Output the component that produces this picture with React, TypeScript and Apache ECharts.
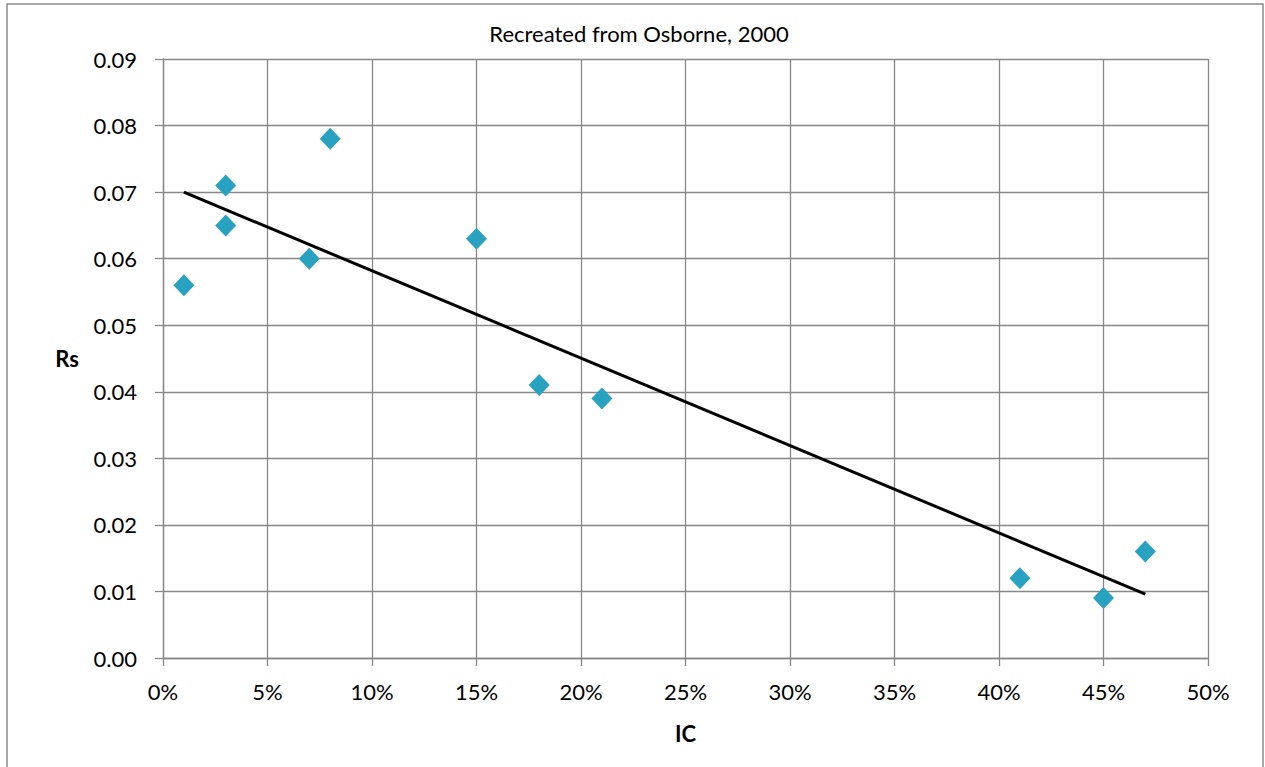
import React, { useEffect, useRef } from "react";
import * as echarts from "echarts";

const icPercent = [1, 3, 3, 7, 8, 15, 18, 21, 41, 45, 47];
const rsValues = [0.056, 0.071, 0.065, 0.06, 0.078, 0.063, 0.041, 0.039, 0.012, 0.009, 0.016];
const trendX = [1, 47];
const trendY = [0.0700, 0.0096];
const titleText = "Recreated from Osborne, 2000";
const xName = "IC";
const yName = "Rs";

const FONT = "Lato, 'Liberation Sans', sans-serif";
const GRID_COLOR = "#888888";

export default function App() {
  const ref = useRef<HTMLDivElement>(null);
  useEffect(() => {
    document.body.style.margin = "0";
    const chart = echarts.init(ref.current!, null, { renderer: "svg" });
    chart.setOption({
      animation: false,
      backgroundColor: "#ffffff",
      textStyle: { fontFamily: FONT },
      title: {
        text: titleText,
        left: 634,
        top: 17,
        textAlign: "center",
        textStyle: { fontSize: 22, fontWeight: "normal", color: "#000", fontFamily: FONT },
      },
      graphic: [
        {
          type: "rect",
          shape: { x: 7, y: 4, width: 1256, height: 800 },
          style: { fill: "none", stroke: "#8c8c8c", lineWidth: 1.5 },
          silent: true,
        },
      ],
      grid: { left: 163, top: 59, width: 1045, height: 599, containLabel: false },
      xAxis: {
        type: "value",
        min: 0,
        max: 50,
        interval: 5,
        name: xName,
        nameLocation: "middle",
        nameGap: 64,
        nameTextStyle: { fontSize: 22, fontWeight: "bold", color: "#000", fontFamily: FONT },
        axisLine: { show: true, lineStyle: { color: GRID_COLOR, width: 1.3 } },
        axisTick: { show: true, length: 8, lineStyle: { color: GRID_COLOR, width: 1.3 } },
        axisLabel: { formatter: "{value}%", fontSize: 22, color: "#000", margin: 22, fontFamily: FONT },
        splitLine: { show: true, lineStyle: { color: GRID_COLOR, width: 1.3 } },
      },
      yAxis: {
        type: "value",
        min: 0,
        max: 0.09,
        interval: 0.01,
        name: yName,
        nameLocation: "middle",
        nameRotate: 0,
        nameGap: 84,
        nameTextStyle: { fontSize: 22, fontWeight: "bold", color: "#000", fontFamily: FONT },
        axisLine: { show: true, lineStyle: { color: GRID_COLOR, width: 1.3 } },
        axisTick: { show: true, length: 8, lineStyle: { color: GRID_COLOR, width: 1.3 } },
        axisLabel: {
          formatter: (v: number) => v.toFixed(2),
          fontSize: 22,
          color: "#000",
          margin: 26,
          fontFamily: FONT,
        },
        splitLine: { show: true, lineStyle: { color: GRID_COLOR, width: 1.3 } },
      },
      series: [
        {
          type: "scatter",
          data: icPercent.map((x, i) => [x, rsValues[i]]),
          symbol: "diamond",
          symbolSize: [21, 22],
          itemStyle: { color: "#29a2c1", opacity: 1 },
          z: 3,
        },
        {
          type: "line",
          data: trendX.map((x, i) => [x, trendY[i]]),
          symbol: "none",
          lineStyle: { color: "#000", width: 3 },
          z: 4,
        },
      ],
    });
    return () => chart.dispose();
  }, []);
  return <div ref={ref} style={{ width: 1265, height: 767 }} />;
}
